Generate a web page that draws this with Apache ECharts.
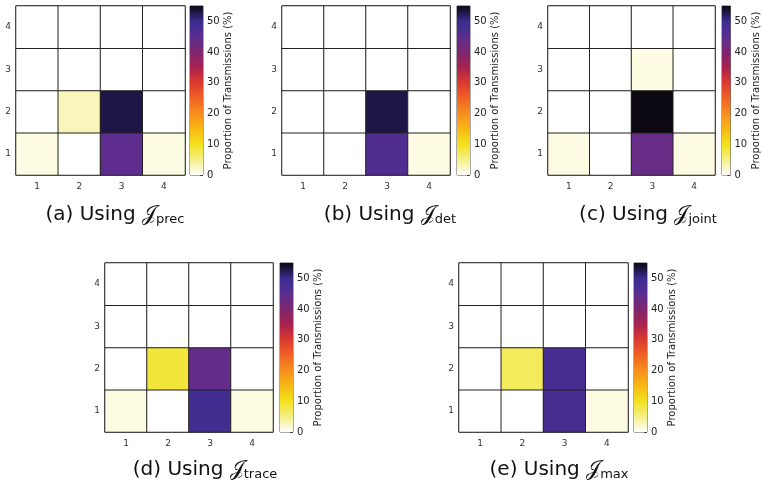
<!DOCTYPE html>
<html>
<head>
<meta charset="utf-8">
<script src="https://cdn.jsdelivr.net/npm/echarts@6/dist/echarts.min.js"></script>
<style>
  html, body { margin: 0; padding: 0; background: #fff; }
  #main { width: 762px; height: 482px; }
</style>
</head>
<body>
<div id="main"></div>
<script>
// axis categories
var xCats = ['1', '2', '3', '4'];
var yCats = ['1', '2', '3', '4'];
var cbTicks = [0, 10, 20, 30, 40, 50];
var cbMax = 55;

// colour map, evenly spaced from 0 to cbMax (every 5 %)
var cmap = ['#ffffff', '#f5ef86', '#f1e21c', '#f8b814', '#f68e1e', '#f06224',
            '#dc3a2e', '#a82250', '#7e2670', '#5c2e90', '#3a2c90', '#0c0814'];

// proportion of transmissions (%), rows are y = 1..4, columns x = 1..4
var valsPrec  = [[1.2, 0, 44.5, 1.2], [0, 2.8, 53, 0], [0, 0, 0, 0], [0, 0, 0, 0]];
var valsDet   = [[0, 0, 46.5, 1.2], [0, 0, 53, 0], [0, 0, 0, 0], [0, 0, 0, 0]];
var valsJoint = [[1.2, 0, 43.5, 1.2], [0, 0, 55, 0], [0, 0, 1.2, 0], [0, 0, 0, 0]];
var valsTrace = [[1.2, 0, 48.5, 1.2], [0, 8.5, 44, 0], [0, 0, 0, 0], [0, 0, 0, 0]];
var valsMax   = [[0, 0, 48, 1.2], [0, 7, 48, 0], [0, 0, 0, 0], [0, 0, 0, 0]];

var panels = [valsPrec, valsDet, valsJoint, valsTrace, valsMax];
var tags = ['(a)', '(b)', '(c)', '(d)', '(e)'];
var subs = ['prec', 'det', 'joint', 'trace', 'max'];

// layout of each panel: heatmap box, colour bar box, caption centre
var boxes = [
    {l: 16,  t: 6,   w: 169, cb: 190, cx: 115, cy: 215},
    {l: 282, t: 6,   w: 168, cb: 457, cx: 390, cy: 215},
    {l: 548, t: 6,   w: 167, cb: 722, cx: 648, cy: 215},
    {l: 105, t: 263, w: 168, cb: 280, cx: 205, cy: 470},
    {l: 459, t: 263, w: 169, cb: 634, cx: 559, cy: 470}
];
var H = 169;

var font = 'DejaVu Sans';
var grid = [], xAxis = [], yAxis = [], series = [], graphic = [];

var stops = cmap.map(function (c, i) {
    return {offset: i / (cmap.length - 1), color: c};
});

boxes.forEach(function (b, i) {
    // heatmap panel
    grid.push({left: b.l, top: b.t, width: b.w, height: H, show: true,
        borderColor: '#555', borderWidth: 1, backgroundColor: '#fff'});
    xAxis.push({type: 'category', data: xCats, gridIndex: 2 * i,
        axisLine: {show: false}, axisTick: {show: false}, splitLine: {show: false},
        axisLabel: {fontSize: 9, color: '#333', margin: 7, fontFamily: font}});
    yAxis.push({type: 'category', data: yCats, gridIndex: 2 * i,
        axisLine: {show: false}, axisTick: {show: false}, splitLine: {show: false},
        axisLabel: {fontSize: 9, color: '#333', margin: 5, fontFamily: font}});
    var data = [];
    panels[i].forEach(function (row, yi) {
        row.forEach(function (v, xi) { data.push([xi, yi, v]); });
    });
    series.push({type: 'heatmap', xAxisIndex: 2 * i, yAxisIndex: 2 * i, data: data,
        itemStyle: {borderColor: '#222', borderWidth: 1},
        emphasis: {disabled: true}, silent: true});

    // colour bar
    grid.push({left: b.cb, top: b.t, width: 13, height: H, show: true,
        borderColor: '#555', borderWidth: 1});
    xAxis.push({type: 'category', data: [''], gridIndex: 2 * i + 1,
        axisLine: {show: false}, axisTick: {show: false}, axisLabel: {show: false}});
    yAxis.push({type: 'value', gridIndex: 2 * i + 1, position: 'right',
        min: 0, max: cbMax, interval: 10,
        axisLine: {show: false}, splitLine: {show: false},
        axisTick: {show: true, inside: true, length: 3, lineStyle: {color: '#444'}},
        axisLabel: {fontSize: 10, color: '#222', margin: 4, fontFamily: font,
            formatter: function (v) { return cbTicks.indexOf(v) >= 0 ? v : ''; }},
        name: 'Proportion of Transmissions (%)', nameLocation: 'middle',
        nameRotate: 90, nameGap: 12,
        nameTextStyle: {fontSize: 10, color: '#222', fontFamily: font}});
    series.push({type: 'bar', xAxisIndex: 2 * i + 1, yAxisIndex: 2 * i + 1,
        data: [cbMax], barWidth: '100%', silent: true,
        itemStyle: {color: {type: 'linear', x: 0, y: 1, x2: 0, y2: 0, colorStops: stops}}});

    // caption
    graphic.push({type: 'text', x: b.cx, y: b.cy,
        style: {text: tags[i] + ' Using {j|\uD835\uDCA5}{s|' + subs[i] + '}',
            fontSize: 20, fontFamily: font, fill: '#111',
            align: 'center', verticalAlign: 'middle',
            rich: {
                j: {fontSize: 21, fontFamily: 'DejaVu Sans', fill: '#111'},
                s: {fontSize: 13, fontFamily: font, fill: '#111', padding: [10, 0, 0, 0]}
            }}});
});

var chart = echarts.init(document.getElementById('main'));
chart.setOption({
    animation: false,
    grid: grid,
    xAxis: xAxis,
    yAxis: yAxis,
    visualMap: {type: 'continuous', show: false, min: 0, max: cbMax,
        seriesIndex: [0, 2, 4, 6, 8], inRange: {color: cmap}},
    series: series,
    graphic: graphic
});
</script>
</body>
</html>
